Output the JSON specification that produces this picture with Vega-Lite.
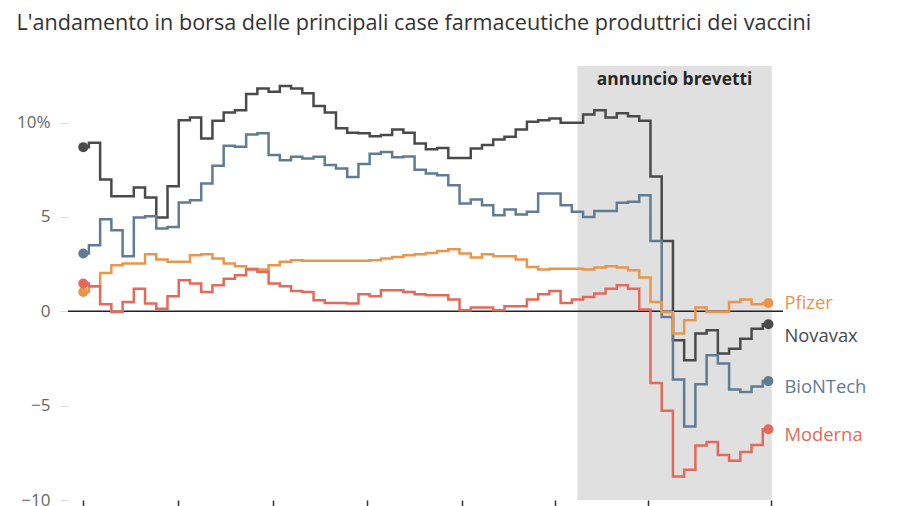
{
  "$schema": "https://vega.github.io/schema/vega-lite/v6.json",
  "description": "Andamento in borsa delle case farmaceutiche produttrici dei vaccini",
  "width": 715,
  "height": 434,
  "autosize": "none",
  "padding": {"left": 68, "top": 66, "right": 117, "bottom": 6},
  "title": {
    "text": "L'andamento in borsa delle principali case farmaceutiche produttrici dei vaccini",
    "anchor": "start",
    "dx": 0,
    "offset": 31,
    "font": "Open Sans",
    "fontSize": 21.6,
    "fontWeight": "normal",
    "color": "#333333"
  },
  "config": {
    "view": {"stroke": null},
    "font": "Open Sans"
  },
  "datasets": {
    "borsa": [
      {"i": 0, "Novavax": 8.7, "BioNTech": 3.06, "Pfizer": 1.02, "Moderna": 1.47},
      {"i": 1, "Novavax": 8.93, "BioNTech": 3.5, "Pfizer": 1.33, "Moderna": 1.33},
      {"i": 2, "Novavax": 6.99, "BioNTech": 4.88, "Pfizer": 2.03, "Moderna": 0.37},
      {"i": 3, "Novavax": 6.1, "BioNTech": 4.3, "Pfizer": 2.44, "Moderna": -0.04},
      {"i": 4, "Novavax": 6.1, "BioNTech": 2.92, "Pfizer": 2.53, "Moderna": 0.49},
      {"i": 5, "Novavax": 6.56, "BioNTech": 4.97, "Pfizer": 2.53, "Moderna": 1.2},
      {"i": 6, "Novavax": 6.03, "BioNTech": 5.04, "Pfizer": 3.02, "Moderna": 0.41},
      {"i": 7, "Novavax": 4.97, "BioNTech": 4.39, "Pfizer": 2.74, "Moderna": 0.14},
      {"i": 8, "Novavax": 6.63, "BioNTech": 4.47, "Pfizer": 2.62, "Moderna": 0.8},
      {"i": 9, "Novavax": 10.13, "BioNTech": 5.77, "Pfizer": 2.62, "Moderna": 1.64},
      {"i": 10, "Novavax": 10.27, "BioNTech": 5.89, "Pfizer": 2.97, "Moderna": 1.47},
      {"i": 11, "Novavax": 9.16, "BioNTech": 6.77, "Pfizer": 3.02, "Moderna": 1.02},
      {"i": 12, "Novavax": 10.1, "BioNTech": 7.71, "Pfizer": 2.8, "Moderna": 1.38},
      {"i": 13, "Novavax": 10.54, "BioNTech": 8.77, "Pfizer": 2.53, "Moderna": 1.73},
      {"i": 14, "Novavax": 10.66, "BioNTech": 8.72, "Pfizer": 2.39, "Moderna": 1.91},
      {"i": 15, "Novavax": 11.51, "BioNTech": 9.37, "Pfizer": 2.26, "Moderna": 2.21},
      {"i": 16, "Novavax": 11.81, "BioNTech": 9.43, "Pfizer": 2.21, "Moderna": 2.09},
      {"i": 17, "Novavax": 11.63, "BioNTech": 8.28, "Pfizer": 2.44, "Moderna": 1.47},
      {"i": 18, "Novavax": 11.94, "BioNTech": 8.01, "Pfizer": 2.62, "Moderna": 1.33},
      {"i": 19, "Novavax": 11.81, "BioNTech": 8.19, "Pfizer": 2.71, "Moderna": 1.08},
      {"i": 20, "Novavax": 11.55, "BioNTech": 8.1, "Pfizer": 2.68, "Moderna": 1.02},
      {"i": 21, "Novavax": 10.88, "BioNTech": 8.19, "Pfizer": 2.68, "Moderna": 0.58},
      {"i": 22, "Novavax": 10.54, "BioNTech": 7.75, "Pfizer": 2.68, "Moderna": 0.44},
      {"i": 23, "Novavax": 9.7, "BioNTech": 7.57, "Pfizer": 2.68, "Moderna": 0.44},
      {"i": 24, "Novavax": 9.46, "BioNTech": 7.12, "Pfizer": 2.68, "Moderna": 0.41},
      {"i": 25, "Novavax": 9.43, "BioNTech": 7.8, "Pfizer": 2.68, "Moderna": 0.9},
      {"i": 26, "Novavax": 9.28, "BioNTech": 8.35, "Pfizer": 2.7, "Moderna": 0.8},
      {"i": 27, "Novavax": 9.34, "BioNTech": 8.44, "Pfizer": 2.8, "Moderna": 1.11},
      {"i": 28, "Novavax": 9.64, "BioNTech": 8.17, "Pfizer": 2.88, "Moderna": 1.11},
      {"i": 29, "Novavax": 9.46, "BioNTech": 8.2, "Pfizer": 2.97, "Moderna": 1.02},
      {"i": 30, "Novavax": 8.89, "BioNTech": 7.5, "Pfizer": 3.02, "Moderna": 0.9},
      {"i": 31, "Novavax": 8.59, "BioNTech": 7.3, "Pfizer": 3.09, "Moderna": 0.85},
      {"i": 32, "Novavax": 8.66, "BioNTech": 7.21, "Pfizer": 3.2, "Moderna": 0.85},
      {"i": 33, "Novavax": 8.13, "BioNTech": 6.68, "Pfizer": 3.29, "Moderna": 0.62},
      {"i": 34, "Novavax": 8.13, "BioNTech": 5.71, "Pfizer": 3.06, "Moderna": 0.05},
      {"i": 35, "Novavax": 8.63, "BioNTech": 5.92, "Pfizer": 2.85, "Moderna": 0.2},
      {"i": 36, "Novavax": 8.81, "BioNTech": 5.62, "Pfizer": 3.02, "Moderna": 0.2},
      {"i": 37, "Novavax": 9.11, "BioNTech": 5.09, "Pfizer": 2.92, "Moderna": 0.05},
      {"i": 38, "Novavax": 9.25, "BioNTech": 5.39, "Pfizer": 2.92, "Moderna": 0.27},
      {"i": 39, "Novavax": 9.64, "BioNTech": 5.13, "Pfizer": 2.74, "Moderna": 0.27},
      {"i": 40, "Novavax": 10.04, "BioNTech": 5.27, "Pfizer": 2.35, "Moderna": 0.62},
      {"i": 41, "Novavax": 10.13, "BioNTech": 6.24, "Pfizer": 2.21, "Moderna": 0.9},
      {"i": 42, "Novavax": 10.22, "BioNTech": 6.24, "Pfizer": 2.26, "Moderna": 1.08},
      {"i": 43, "Novavax": 9.99, "BioNTech": 5.62, "Pfizer": 2.26, "Moderna": 0.44},
      {"i": 44, "Novavax": 9.99, "BioNTech": 5.27, "Pfizer": 2.26, "Moderna": 0.62},
      {"i": 45, "Novavax": 10.43, "BioNTech": 5.0, "Pfizer": 2.21, "Moderna": 0.76},
      {"i": 46, "Novavax": 10.66, "BioNTech": 5.31, "Pfizer": 2.32, "Moderna": 0.94},
      {"i": 47, "Novavax": 10.27, "BioNTech": 5.31, "Pfizer": 2.39, "Moderna": 1.2},
      {"i": 48, "Novavax": 10.49, "BioNTech": 5.75, "Pfizer": 2.32, "Moderna": 1.38},
      {"i": 49, "Novavax": 10.34, "BioNTech": 5.8, "Pfizer": 2.17, "Moderna": 1.2},
      {"i": 50, "Novavax": 10.1, "BioNTech": 6.15, "Pfizer": 1.79, "Moderna": 0.09},
      {"i": 51, "Novavax": 7.14, "BioNTech": 3.73, "Pfizer": 0.49, "Moderna": -3.8},
      {"i": 52, "Novavax": 3.73, "BioNTech": -0.3, "Pfizer": -0.05, "Moderna": -5.27},
      {"i": 53, "Novavax": -1.54, "BioNTech": -3.62, "Pfizer": -1.18, "Moderna": -8.76},
      {"i": 54, "Novavax": -2.6, "BioNTech": -6.1, "Pfizer": -0.48, "Moderna": -8.4},
      {"i": 55, "Novavax": -1.18, "BioNTech": -3.87, "Pfizer": 0.2, "Moderna": -7.11},
      {"i": 56, "Novavax": -1.01, "BioNTech": -2.33, "Pfizer": -0.04, "Moderna": -6.93},
      {"i": 57, "Novavax": -2.24, "BioNTech": -2.77, "Pfizer": -0.04, "Moderna": -7.62},
      {"i": 58, "Novavax": -1.98, "BioNTech": -4.15, "Pfizer": 0.49, "Moderna": -7.92},
      {"i": 59, "Novavax": -1.45, "BioNTech": -4.28, "Pfizer": 0.62, "Moderna": -7.46},
      {"i": 60, "Novavax": -0.92, "BioNTech": -3.98, "Pfizer": 0.37, "Moderna": -7.08},
      {"i": 61, "Novavax": -0.69, "BioNTech": -3.7, "Pfizer": 0.44, "Moderna": -6.25}
    ],
    "finestra": [
      {"da": 44, "a": 61.3, "mid": 52.65, "top": 12.25, "label": "annuncio brevetti"}
    ],
    "etichette": [
      {"s": "Pfizer", "i": 61, "ly": 0.42},
      {"s": "Novavax", "i": 61, "ly": -1.33},
      {"s": "BioNTech", "i": 61, "ly": -4.03},
      {"s": "Moderna", "i": 61, "ly": -6.53}
    ]
  },
  "layer": [
    {
      "data": {"name": "finestra"},
      "mark": {"type": "rect", "color": "#e0e0e0"},
      "encoding": {
        "x": {
          "field": "da", "type": "quantitative", "title": null,
          "scale": {"domain": [-1.36, 62.3], "nice": false, "zero": false},
          "axis": {
            "values": [0, 8.43, 16.9, 25.3, 33.7, 42, 50.3, 61.2],
            "labels": false, "domain": false, "grid": false,
            "ticks": true, "tickColor": "#333333", "tickSize": 10, "tickWidth": 1.5
          }
        },
        "x2": {"field": "a"}
      }
    },
    {
      "data": {"name": "finestra"},
      "mark": {"type": "text", "font": "Open Sans", "fontSize": 17.4, "fontWeight": "bold", "color": "#262626", "baseline": "middle"},
      "encoding": {
        "x": {"field": "mid", "type": "quantitative", "title": null},
        "y": {"field": "top", "type": "quantitative", "title": null},
        "text": {"field": "label"}
      }
    },
    {
      "data": {"values": [{"z": 0}]},
      "mark": {"type": "rule", "color": "#222222", "strokeWidth": 1.5},
      "encoding": {
        "y": {"field": "z", "type": "quantitative", "title": null}
      }
    },
    {
      "data": {"name": "borsa"},
      "transform": [{"fold": ["Novavax", "BioNTech", "Pfizer", "Moderna"], "as": ["s", "v"]}],
      "mark": {"type": "line", "interpolate": "step", "strokeWidth": 2.5},
      "encoding": {
        "x": {"field": "i", "type": "quantitative", "title": null},
        "y": {
          "field": "v", "type": "quantitative", "title": null,
          "scale": {"domain": [-10, 13], "nice": false, "zero": false},
          "axis": {
            "values": [-10, -5, 0, 5, 10],
            "labelExpr": "datum.value == 10 ? '10%' : (datum.value < 0 ? '−' + abs(datum.value) : '' + datum.value)",
            "domain": false, "grid": false,
            "tickColor": "#dddddd", "tickSize": 8, "tickWidth": 1,
            "labelPadding": 10, "labelFontSize": 17, "labelColor": "#666666", "labelFont": "Open Sans"
          }
        },
        "color": {
          "field": "s", "type": "nominal", "legend": null,
          "scale": {
            "domain": ["Pfizer", "Novavax", "BioNTech", "Moderna"],
            "range": ["#e8964c", "#4a4a4a", "#5f7c94", "#e4695a"]
          }
        }
      }
    },
    {
      "data": {"name": "borsa"},
      "transform": [
        {"fold": ["Novavax", "BioNTech", "Pfizer", "Moderna"], "as": ["s", "v"]},
        {"filter": "datum.i == 0 || datum.i == 61"}
      ],
      "mark": {"type": "circle", "size": 100, "opacity": 1},
      "encoding": {
        "x": {"field": "i", "type": "quantitative", "title": null},
        "y": {"field": "v", "type": "quantitative", "title": null},
        "color": {"field": "s", "type": "nominal", "legend": null}
      }
    },
    {
      "data": {"name": "etichette"},
      "mark": {"type": "text", "align": "left", "baseline": "middle", "dx": 16, "font": "Open Sans", "fontSize": 18.4},
      "encoding": {
        "x": {"field": "i", "type": "quantitative", "title": null},
        "y": {"field": "ly", "type": "quantitative", "title": null},
        "text": {"field": "s"},
        "color": {"field": "s", "type": "nominal", "legend": null}
      }
    }
  ]
}
